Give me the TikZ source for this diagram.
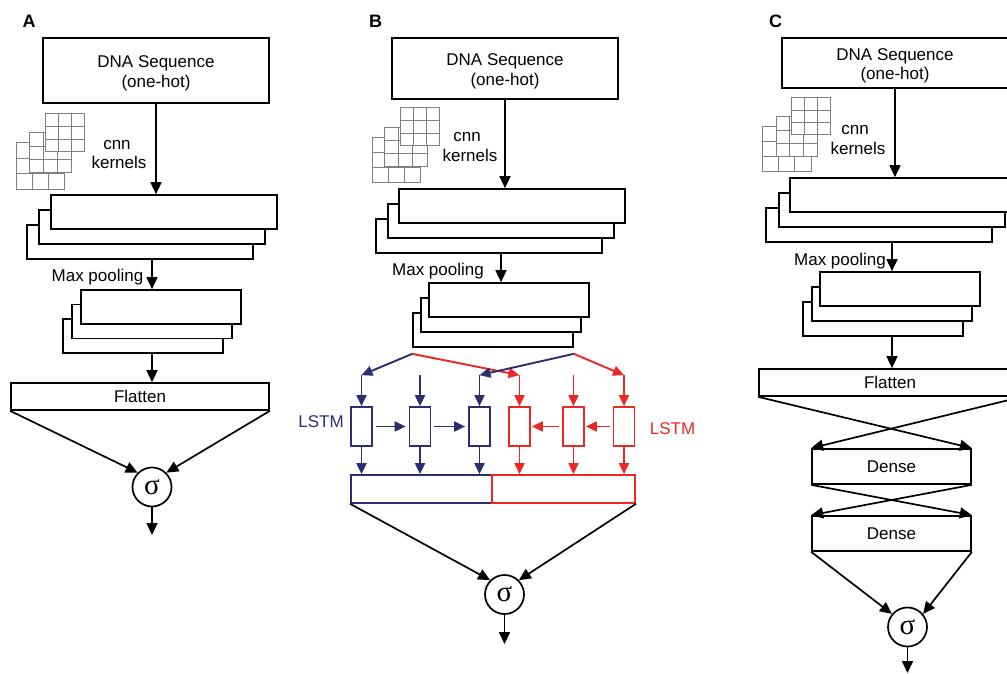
\documentclass[tikz,border=0pt]{standalone}
\usepackage{fontspec}
\setmainfont{Liberation Sans}
\newfontfamily\serifgr{Liberation Serif}
\usetikzlibrary{arrows.meta,calc}
\definecolor{lblue}{RGB}{44,46,112}
\definecolor{lred}{RGB}{237,40,36}
\definecolor{kgray}{RGB}{128,128,128}
\newcommand{\kgrid}[4]{%
  \draw[kgridst] (#1,#2) rectangle ++(#3,#4);
  \draw[kgridst] ({#1+#3/3},#2) -- ++(0,#4) ({#1+2*#3/3},#2) -- ++(0,#4)
                 (#1,{#2+#4/3}) -- ++(#3,0) (#1,{#2+2*#4/3}) -- ++(#3,0);
}
\begin{document}
\begin{tikzpicture}[x=1pt,y=-1pt,
  every node/.style={font=\fontsize{17}{19.5}\selectfont},
  box/.style={draw=black, line width=1.7pt, fill=white, inner sep=0pt, align=center},
  layerbox/.style={box, minimum width=226pt, minimum height=34pt},
  poolbox/.style={box, minimum width=160pt, minimum height=34pt},
  cellb/.style={draw=lblue, line width=1.7pt, fill=white, inner sep=0pt, minimum width=21pt, minimum height=39pt},
  cellr/.style={cellb, draw=lred},
  sig/.style={circle, draw=black, line width=1.7pt, inner sep=0pt, minimum size=39pt, font=\serifgr\fontsize{29}{29}\selectfont},
  arr/.style={line width=1.7pt, -{Triangle[length=12pt,width=11pt]}},
  barr/.style={line width=1.9pt, draw=lblue, fill=lblue, -{Triangle[length=11pt,width=10pt]}},
  rarr/.style={line width=1.9pt, draw=lred, fill=lred, -{Triangle[length=11pt,width=10pt]}},
  panel/.style={font=\bfseries\fontsize{18}{18}\selectfont},
  kgridst/.style={draw=kgray, fill=white, line width=1pt},
  txt/.style={inner sep=0pt, anchor=base}
]
\clip (0,0) rectangle (1007,674);
\fill[white] (0,0) rectangle (1007,674);

% ---------------- Panel A ----------------
\node[panel] (labA) at (29,21.5) {A};
\node[box, minimum width=226pt, minimum height=65pt] (dnaA) at (156,70.5) {\rule{0pt}{18pt}DNA Sequence\\(one-hot)};
\kgrid{16}{143}{48}{46}
\kgrid{29}{133}{42}{40}
\kgrid{45}{114}{39}{38}
\node[txt] (cnnA) at (117,149.5) {cnn};
\node[txt] (kerA) at (119,168) {kernels};
\node[layerbox] (convA3) at (140,242) {};
\node[layerbox] (convA2) at (152,227) {};
\node[layerbox] (convA1) at (164,212) {};
\node[txt] (mpA) at (97.5,281.5) {Max pooling};
\node[poolbox] (poolA3) at (143,336) {};
\node[poolbox] (poolA2) at (152,321.5) {};
\node[poolbox] (poolA1) at (161,307) {};
\node[box, minimum width=258pt, minimum height=27pt] (flatA) at (140,396.5) {Flatten};
\node[sig] (sigA) at (152,487) {σ};
\coordinate (outA) at (152,535);
\draw[arr] (dnaA.south) -- (dnaA.south |- convA1.north);
\draw[arr] ([xshift=12pt]convA3.south) -- ([xshift=12pt]convA3.south |- poolA1.north);
\draw[arr] ([xshift=9pt]poolA3.south) -- ([xshift=9pt]poolA3.south |- flatA.north);
\draw[arr] (flatA.south west) -- (sigA.135);
\draw[arr] (flatA.south east) -- (sigA.45);
\draw[arr] (sigA.south) -- (outA);

% ---------------- Panel B ----------------
\node[panel] (labB) at (375.5,21.5) {B};
\node[box, minimum width=226pt, minimum height=61pt] (dnaB) at (505,68.5) {\rule{0pt}{18pt}DNA Sequence\\(one-hot)};
\kgrid{372}{138}{48}{45}
\kgrid{384}{128}{43}{39}
\kgrid{400}{108}{39}{38}
\node[txt] (cnnB) at (467,142) {cnn};
\node[txt] (kerB) at (470,161.5) {kernels};
\node[layerbox] (convB3) at (489,236) {};
\node[layerbox] (convB2) at (501,221) {};
\node[layerbox] (convB1) at (512,206) {};
\node[txt] (mpB) at (438,275) {Max pooling};
\node[poolbox] (poolB3) at (493,330) {};
\node[poolbox] (poolB2) at (501,315) {};
\node[poolbox] (poolB1) at (509,300) {};
\draw[arr] (dnaB.south) -- (dnaB.south |- convB1.north);
\draw[arr] ([xshift=12pt]convB3.south) -- ([xshift=12pt]convB3.south |- poolB1.north);
\coordinate (pL) at ([yshift=-6pt]poolB3.south west);
\coordinate (pR) at ([yshift=-6pt]poolB3.south east);
% LSTM cells
\node[cellb] (b1) at (361.5,426.5) {};
\node[cellb] (b2) at (420,426.5) {};
\node[cellb] (b3) at (479.5,426.5) {};
\node[cellr] (r1) at (519.5,426.5) {};
\node[cellr] (r2) at (573.5,426.5) {};
\node[cellr] (r3) at (624,426.5) {};
\foreach \c in {b1,b2,b3,r1,r2,r3} {\coordinate (\c in) at ($(\c.north)+(0,-31)$);}
\draw[barr] (pL) -- (b1in);
\draw[rarr] (pL) -- (r1in);
\draw[barr] (pR) -- (b3in);
\draw[rarr] (pR) -- (r3in);
\foreach \c in {b1,b2,b3} {\draw[barr] (\c in) -- (\c.north);}
\foreach \c in {r1,r2,r3} {\draw[rarr] (\c in) -- (\c.north);}
\draw[barr, shorten <=3pt, shorten >=3pt] (b1.east) -- (b2.west);
\draw[barr, shorten <=3pt, shorten >=3pt] (b2.east) -- (b3.west);
\draw[rarr, shorten <=3pt, shorten >=1pt] (r2.west) -- (r1.east);
\draw[rarr, shorten <=3pt, shorten >=1pt] (r3.west) -- (r2.east);
\node[text=lblue] (lstmB) at (321,421.5) {LSTM};
\node[text=lred] (lstmR) at (672.5,429) {LSTM};
\node[box, draw=lblue, minimum width=141pt, minimum height=28pt] (outBl) at (421.5,489) {};
\node[box, draw=lred, minimum width=143pt, minimum height=28pt] (outRd) at (563.5,489) {};
\foreach \c in {b1,b2,b3} {\draw[barr] (\c.south) -- (\c.south |- outBl.north);}
\foreach \c in {r1,r2,r3} {\draw[rarr] (\c.south) -- (\c.south |- outRd.north);}
\node[sig] (sigB) at (504.5,594.5) {σ};
\coordinate (outB) at (504.5,644);
\draw[arr] (outBl.south west) -- (sigB.135);
\draw[arr] (outRd.south east) -- (sigB.45);
\draw[arr] (sigB.south) -- (outB);

% ---------------- Panel C ----------------
\node[panel] (labC) at (775.5,21.5) {C};
\node[box, minimum width=226pt, minimum height=50pt] (dnaC) at (895,63) {\rule{0pt}{18pt}DNA Sequence\\(one-hot)};
\kgrid{762}{127}{49}{45}
\kgrid{776}{117}{41}{40}
\kgrid{791}{98}{39}{37}
\node[txt] (cnnC) at (855,135) {cnn};
\node[txt] (kerC) at (858,155) {kernels};
\node[layerbox] (convC3) at (879,225) {};
\node[layerbox] (convC2) at (892,210) {};
\node[layerbox] (convC1) at (903,195) {};
\node[txt] (mpC) at (840,265) {Max pooling};
\node[poolbox] (poolC3) at (883,319) {};
\node[poolbox] (poolC2) at (892,304) {};
\node[poolbox] (poolC1) at (900,289) {};
\node[box, minimum width=262pt, minimum height=27pt] (flatC) at (890,382.5) {Flatten};
\node[box, minimum width=159pt, minimum height=35pt] (den1) at (891.5,466.5) {Dense};
\node[box, minimum width=159pt, minimum height=35pt] (den2) at (891.5,533.5) {Dense};
\node[sig] (sigC) at (907.5,627) {σ};
\coordinate (outC) at (907.5,673);
\draw[arr] (dnaC.south) -- (dnaC.south |- convC1.north);
\draw[arr] ([xshift=13pt]convC3.south) -- ([xshift=13pt]convC3.south |- poolC1.north);
\draw[arr] ([xshift=9pt]poolC3.south) -- ([xshift=9pt]poolC3.south |- flatC.north);
\draw[arr] (flatC.south west) -- (den1.north east);
\draw[arr] (flatC.south east) -- (den1.north west);
\draw[arr] (den1.south west) -- (den2.north east);
\draw[arr] (den1.south east) -- (den2.north west);
\draw[arr] (den2.south west) -- (sigC.140);
\draw[arr] (den2.south east) -- (sigC.40);
\draw[arr] (sigC.south) -- (outC);
\end{tikzpicture}
\end{document}
